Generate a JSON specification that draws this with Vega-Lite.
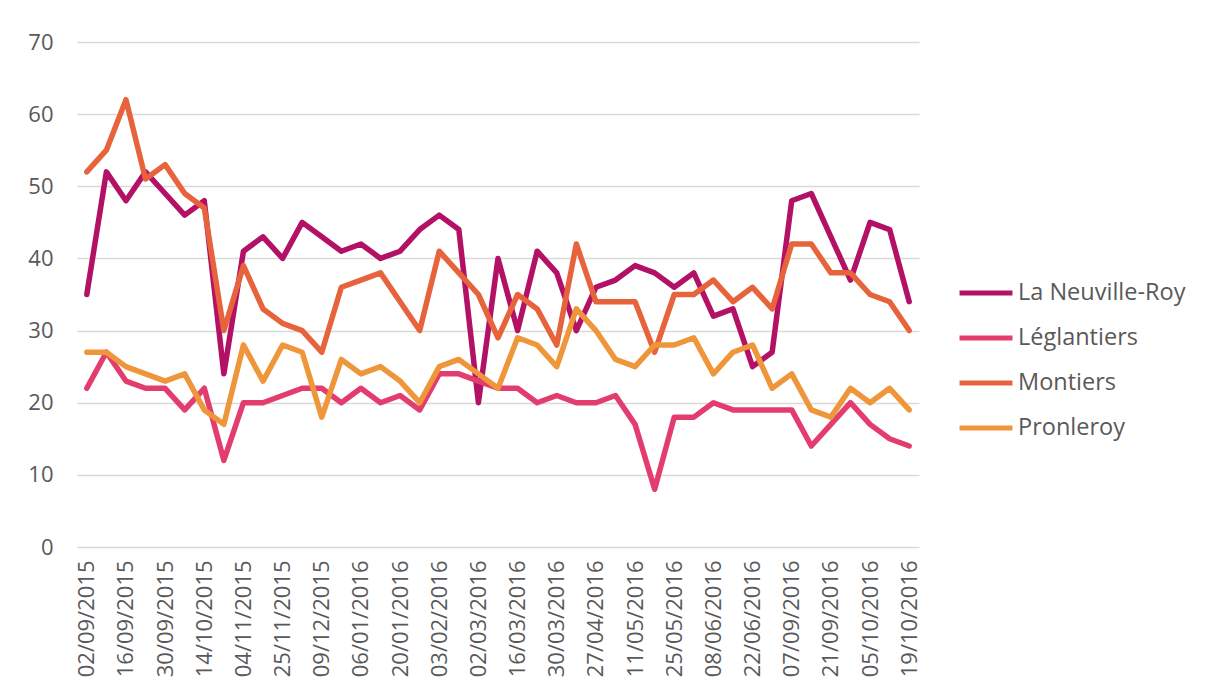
{
  "$schema": "https://vega.github.io/schema/vega-lite/v6.json",
  "autosize": {"type": "none"},
  "padding": {"left": 77, "top": 42, "right": 290, "bottom": 153},
  "width": 842,
  "height": 505,
  "background": "#ffffff",
  "config": {
    "view": {"stroke": null},
    "font": "Open Sans"
  },
  "data": {"values": [
    {"date":"02/09/2015","site":"La Neuville-Roy","value":35},
    {"date":"09/09/2015","site":"La Neuville-Roy","value":52},
    {"date":"16/09/2015","site":"La Neuville-Roy","value":48},
    {"date":"23/09/2015","site":"La Neuville-Roy","value":52},
    {"date":"30/09/2015","site":"La Neuville-Roy","value":49},
    {"date":"07/10/2015","site":"La Neuville-Roy","value":46},
    {"date":"14/10/2015","site":"La Neuville-Roy","value":48},
    {"date":"21/10/2015","site":"La Neuville-Roy","value":24},
    {"date":"04/11/2015","site":"La Neuville-Roy","value":41},
    {"date":"18/11/2015","site":"La Neuville-Roy","value":43},
    {"date":"25/11/2015","site":"La Neuville-Roy","value":40},
    {"date":"02/12/2015","site":"La Neuville-Roy","value":45},
    {"date":"09/12/2015","site":"La Neuville-Roy","value":43},
    {"date":"16/12/2015","site":"La Neuville-Roy","value":41},
    {"date":"06/01/2016","site":"La Neuville-Roy","value":42},
    {"date":"13/01/2016","site":"La Neuville-Roy","value":40},
    {"date":"20/01/2016","site":"La Neuville-Roy","value":41},
    {"date":"27/01/2016","site":"La Neuville-Roy","value":44},
    {"date":"03/02/2016","site":"La Neuville-Roy","value":46},
    {"date":"10/02/2016","site":"La Neuville-Roy","value":44},
    {"date":"02/03/2016","site":"La Neuville-Roy","value":20},
    {"date":"09/03/2016","site":"La Neuville-Roy","value":40},
    {"date":"16/03/2016","site":"La Neuville-Roy","value":30},
    {"date":"23/03/2016","site":"La Neuville-Roy","value":41},
    {"date":"30/03/2016","site":"La Neuville-Roy","value":38},
    {"date":"13/04/2016","site":"La Neuville-Roy","value":30},
    {"date":"27/04/2016","site":"La Neuville-Roy","value":36},
    {"date":"04/05/2016","site":"La Neuville-Roy","value":37},
    {"date":"11/05/2016","site":"La Neuville-Roy","value":39},
    {"date":"18/05/2016","site":"La Neuville-Roy","value":38},
    {"date":"25/05/2016","site":"La Neuville-Roy","value":36},
    {"date":"01/06/2016","site":"La Neuville-Roy","value":38},
    {"date":"08/06/2016","site":"La Neuville-Roy","value":32},
    {"date":"15/06/2016","site":"La Neuville-Roy","value":33},
    {"date":"22/06/2016","site":"La Neuville-Roy","value":25},
    {"date":"29/06/2016","site":"La Neuville-Roy","value":27},
    {"date":"07/09/2016","site":"La Neuville-Roy","value":48},
    {"date":"14/09/2016","site":"La Neuville-Roy","value":49},
    {"date":"21/09/2016","site":"La Neuville-Roy","value":43},
    {"date":"28/09/2016","site":"La Neuville-Roy","value":37},
    {"date":"05/10/2016","site":"La Neuville-Roy","value":45},
    {"date":"12/10/2016","site":"La Neuville-Roy","value":44},
    {"date":"19/10/2016","site":"La Neuville-Roy","value":34},

    {"date":"02/09/2015","site":"Léglantiers","value":22},
    {"date":"09/09/2015","site":"Léglantiers","value":27},
    {"date":"16/09/2015","site":"Léglantiers","value":23},
    {"date":"23/09/2015","site":"Léglantiers","value":22},
    {"date":"30/09/2015","site":"Léglantiers","value":22},
    {"date":"07/10/2015","site":"Léglantiers","value":19},
    {"date":"14/10/2015","site":"Léglantiers","value":22},
    {"date":"21/10/2015","site":"Léglantiers","value":12},
    {"date":"04/11/2015","site":"Léglantiers","value":20},
    {"date":"18/11/2015","site":"Léglantiers","value":20},
    {"date":"25/11/2015","site":"Léglantiers","value":21},
    {"date":"02/12/2015","site":"Léglantiers","value":22},
    {"date":"09/12/2015","site":"Léglantiers","value":22},
    {"date":"16/12/2015","site":"Léglantiers","value":20},
    {"date":"06/01/2016","site":"Léglantiers","value":22},
    {"date":"13/01/2016","site":"Léglantiers","value":20},
    {"date":"20/01/2016","site":"Léglantiers","value":21},
    {"date":"27/01/2016","site":"Léglantiers","value":19},
    {"date":"03/02/2016","site":"Léglantiers","value":24},
    {"date":"10/02/2016","site":"Léglantiers","value":24},
    {"date":"02/03/2016","site":"Léglantiers","value":23},
    {"date":"09/03/2016","site":"Léglantiers","value":22},
    {"date":"16/03/2016","site":"Léglantiers","value":22},
    {"date":"23/03/2016","site":"Léglantiers","value":20},
    {"date":"30/03/2016","site":"Léglantiers","value":21},
    {"date":"13/04/2016","site":"Léglantiers","value":20},
    {"date":"27/04/2016","site":"Léglantiers","value":20},
    {"date":"04/05/2016","site":"Léglantiers","value":21},
    {"date":"11/05/2016","site":"Léglantiers","value":17},
    {"date":"18/05/2016","site":"Léglantiers","value":8},
    {"date":"25/05/2016","site":"Léglantiers","value":18},
    {"date":"01/06/2016","site":"Léglantiers","value":18},
    {"date":"08/06/2016","site":"Léglantiers","value":20},
    {"date":"15/06/2016","site":"Léglantiers","value":19},
    {"date":"22/06/2016","site":"Léglantiers","value":19},
    {"date":"29/06/2016","site":"Léglantiers","value":19},
    {"date":"07/09/2016","site":"Léglantiers","value":19},
    {"date":"14/09/2016","site":"Léglantiers","value":14},
    {"date":"21/09/2016","site":"Léglantiers","value":17},
    {"date":"28/09/2016","site":"Léglantiers","value":20},
    {"date":"05/10/2016","site":"Léglantiers","value":17},
    {"date":"12/10/2016","site":"Léglantiers","value":15},
    {"date":"19/10/2016","site":"Léglantiers","value":14},

    {"date":"02/09/2015","site":"Montiers","value":52},
    {"date":"09/09/2015","site":"Montiers","value":55},
    {"date":"16/09/2015","site":"Montiers","value":62},
    {"date":"23/09/2015","site":"Montiers","value":51},
    {"date":"30/09/2015","site":"Montiers","value":53},
    {"date":"07/10/2015","site":"Montiers","value":49},
    {"date":"14/10/2015","site":"Montiers","value":47},
    {"date":"21/10/2015","site":"Montiers","value":30},
    {"date":"04/11/2015","site":"Montiers","value":39},
    {"date":"18/11/2015","site":"Montiers","value":33},
    {"date":"25/11/2015","site":"Montiers","value":31},
    {"date":"02/12/2015","site":"Montiers","value":30},
    {"date":"09/12/2015","site":"Montiers","value":27},
    {"date":"16/12/2015","site":"Montiers","value":36},
    {"date":"06/01/2016","site":"Montiers","value":37},
    {"date":"13/01/2016","site":"Montiers","value":38},
    {"date":"20/01/2016","site":"Montiers","value":34},
    {"date":"27/01/2016","site":"Montiers","value":30},
    {"date":"03/02/2016","site":"Montiers","value":41},
    {"date":"10/02/2016","site":"Montiers","value":38},
    {"date":"02/03/2016","site":"Montiers","value":35},
    {"date":"09/03/2016","site":"Montiers","value":29},
    {"date":"16/03/2016","site":"Montiers","value":35},
    {"date":"23/03/2016","site":"Montiers","value":33},
    {"date":"30/03/2016","site":"Montiers","value":28},
    {"date":"13/04/2016","site":"Montiers","value":42},
    {"date":"27/04/2016","site":"Montiers","value":34},
    {"date":"04/05/2016","site":"Montiers","value":34},
    {"date":"11/05/2016","site":"Montiers","value":34},
    {"date":"18/05/2016","site":"Montiers","value":27},
    {"date":"25/05/2016","site":"Montiers","value":35},
    {"date":"01/06/2016","site":"Montiers","value":35},
    {"date":"08/06/2016","site":"Montiers","value":37},
    {"date":"15/06/2016","site":"Montiers","value":34},
    {"date":"22/06/2016","site":"Montiers","value":36},
    {"date":"29/06/2016","site":"Montiers","value":33},
    {"date":"07/09/2016","site":"Montiers","value":42},
    {"date":"14/09/2016","site":"Montiers","value":42},
    {"date":"21/09/2016","site":"Montiers","value":38},
    {"date":"28/09/2016","site":"Montiers","value":38},
    {"date":"05/10/2016","site":"Montiers","value":35},
    {"date":"12/10/2016","site":"Montiers","value":34},
    {"date":"19/10/2016","site":"Montiers","value":30},

    {"date":"02/09/2015","site":"Pronleroy","value":27},
    {"date":"09/09/2015","site":"Pronleroy","value":27},
    {"date":"16/09/2015","site":"Pronleroy","value":25},
    {"date":"23/09/2015","site":"Pronleroy","value":24},
    {"date":"30/09/2015","site":"Pronleroy","value":23},
    {"date":"07/10/2015","site":"Pronleroy","value":24},
    {"date":"14/10/2015","site":"Pronleroy","value":19},
    {"date":"21/10/2015","site":"Pronleroy","value":17},
    {"date":"04/11/2015","site":"Pronleroy","value":28},
    {"date":"18/11/2015","site":"Pronleroy","value":23},
    {"date":"25/11/2015","site":"Pronleroy","value":28},
    {"date":"02/12/2015","site":"Pronleroy","value":27},
    {"date":"09/12/2015","site":"Pronleroy","value":18},
    {"date":"16/12/2015","site":"Pronleroy","value":26},
    {"date":"06/01/2016","site":"Pronleroy","value":24},
    {"date":"13/01/2016","site":"Pronleroy","value":25},
    {"date":"20/01/2016","site":"Pronleroy","value":23},
    {"date":"27/01/2016","site":"Pronleroy","value":20},
    {"date":"03/02/2016","site":"Pronleroy","value":25},
    {"date":"10/02/2016","site":"Pronleroy","value":26},
    {"date":"02/03/2016","site":"Pronleroy","value":24},
    {"date":"09/03/2016","site":"Pronleroy","value":22},
    {"date":"16/03/2016","site":"Pronleroy","value":29},
    {"date":"23/03/2016","site":"Pronleroy","value":28},
    {"date":"30/03/2016","site":"Pronleroy","value":25},
    {"date":"13/04/2016","site":"Pronleroy","value":33},
    {"date":"27/04/2016","site":"Pronleroy","value":30},
    {"date":"04/05/2016","site":"Pronleroy","value":26},
    {"date":"11/05/2016","site":"Pronleroy","value":25},
    {"date":"18/05/2016","site":"Pronleroy","value":28},
    {"date":"25/05/2016","site":"Pronleroy","value":28},
    {"date":"01/06/2016","site":"Pronleroy","value":29},
    {"date":"08/06/2016","site":"Pronleroy","value":24},
    {"date":"15/06/2016","site":"Pronleroy","value":27},
    {"date":"22/06/2016","site":"Pronleroy","value":28},
    {"date":"29/06/2016","site":"Pronleroy","value":22},
    {"date":"07/09/2016","site":"Pronleroy","value":24},
    {"date":"14/09/2016","site":"Pronleroy","value":19},
    {"date":"21/09/2016","site":"Pronleroy","value":18},
    {"date":"28/09/2016","site":"Pronleroy","value":22},
    {"date":"05/10/2016","site":"Pronleroy","value":20},
    {"date":"12/10/2016","site":"Pronleroy","value":22},
    {"date":"19/10/2016","site":"Pronleroy","value":19}
  ]},
  "mark": {"type": "line", "strokeWidth": 5.5, "strokeJoin": "round", "strokeCap": "round"},
  "encoding": {
    "x": {
      "field": "date",
      "type": "ordinal",
      "sort": null,
      "scale": {"type": "point", "padding": 0.5},
      "axis": {
        "title": null,
        "values": ["02/09/2015","16/09/2015","30/09/2015","14/10/2015","04/11/2015","25/11/2015","09/12/2015","06/01/2016","20/01/2016","03/02/2016","02/03/2016","16/03/2016","30/03/2016","27/04/2016","11/05/2016","25/05/2016","08/06/2016","22/06/2016","07/09/2016","21/09/2016","05/10/2016","19/10/2016"],
        "labelAngle": 270,
        "labelAlign": "right",
        "labelBaseline": "middle",
        "labelFontSize": 22,
        "labelColor": "#595959",
        "labelPadding": 13,
        "labelFont": "Open Sans",
        "ticks": false,
        "domain": false,
        "grid": false
      }
    },
    "y": {
      "field": "value",
      "type": "quantitative",
      "scale": {"domain": [0, 70], "nice": false, "zero": true},
      "axis": {
        "title": null,
        "values": [0, 10, 20, 30, 40, 50, 60, 70],
        "labelFontSize": 22,
        "labelColor": "#595959",
        "labelFont": "Open Sans",
        "labelPadding": 24,
        "ticks": false,
        "domain": false,
        "grid": true,
        "gridColor": "#d9d9d9",
        "gridWidth": 1.5
      }
    },
    "color": {
      "field": "site",
      "type": "nominal",
      "sort": ["La Neuville-Roy", "Léglantiers", "Montiers", "Pronleroy"],
      "scale": {
        "domain": ["La Neuville-Roy", "Léglantiers", "Montiers", "Pronleroy"],
        "range": ["#b31166", "#e33d6f", "#e6633c", "#ef963b"]
      },
      "legend": {
        "title": null,
        "orient": "none",
        "legendX": 880,
        "legendY": 222,
        "padding": 0,
        "symbolType": "stroke",
        "symbolSize": 2800,
        "symbolStrokeWidth": 5,
        "labelFontSize": 23.5,
        "labelFont": "Open Sans",
        "labelColor": "#595959",
        "labelOffset": 3,
        "rowPadding": 4,
        "labelLimit": 400
      }
    }
  }
}
